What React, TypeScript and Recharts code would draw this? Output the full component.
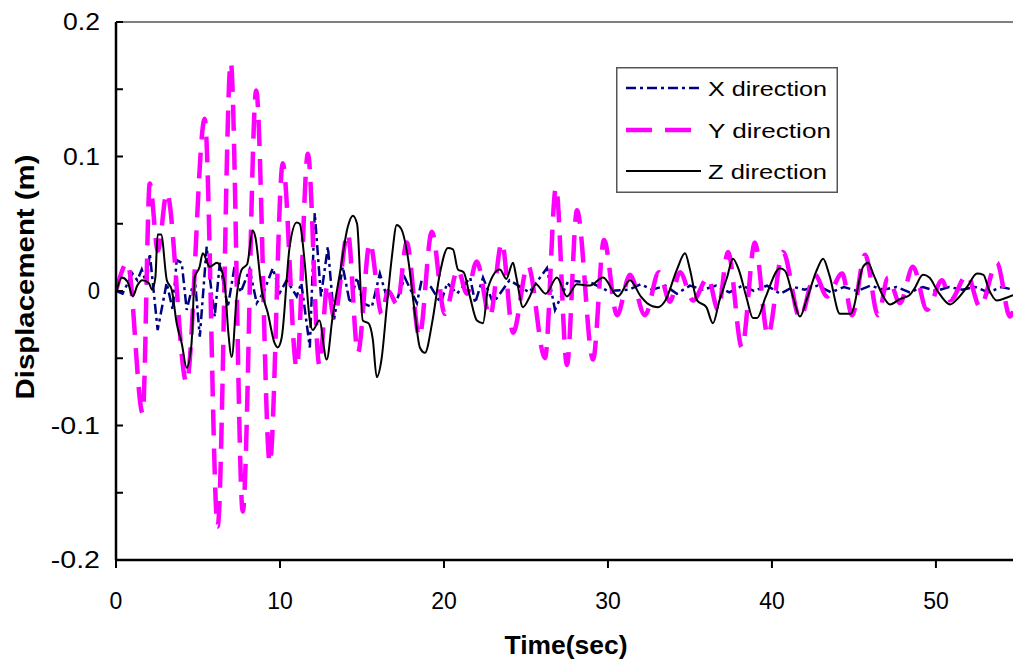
import React from 'react';
import { LineChart, Line, XAxis, YAxis, ReferenceLine, Legend } from 'recharts';

const SERIES_NAMES = ['X direction', 'Y direction', 'Z direction'];
const SERIES_COLORS = ['#000080', '#FF00FF', '#000000'];
const X_TICKS = [0, 10, 20, 30, 40, 50];
const Y_TICKS = [-0.2, -0.15, -0.1, -0.05, 0, 0.05, 0.1, 0.15, 0.2];
const Y_TICK_LABELS: Record<string, string> = { '-0.2': '-0.2', '-0.1': '-0.1', '0': '0', '0.1': '0.1', '0.2': '0.2' };

// [time (sec), displacement (m)]
const X_DIR: [number, number][] = [
  [0, 0], [0.4, -0.002], [1.0, 0.013], [1.3, 0.008], [1.57, 0.016], [1.87, 0.005], [2.06, 0.028], [2.54, -0.029],
  [3.09, 0.006], [3.46, -0.014], [3.7, 0.023], [4.01, 0.021], [4.31, -0.014], [4.8, 0.01], [5.11, -0.034], [5.53, 0.033],
  [5.72, 0.01], [6.02, -0.019], [6.33, 0.021], [6.82, -0.012], [7.24, 0.019], [7.6, -0.001], [8.15, 0.016], [8.58, -0.009],
  [9.0, -0.001], [9.56, 0.017], [10.0, -0.001], [10.41, 0.008], [11.02, -0.004], [11.3, 0.006], [11.82, -0.042], [12.12, 0.058],
  [12.5, -0.004], [12.92, 0.033], [13.3, -0.021], [13.83, 0.018], [14.26, -0.009], [14.7, 0.01], [15.05, -0.009], [15.6, -0.012],
  [16.09, 0.013], [16.5, -0.004], [17.12, -0.007], [17.61, 0.01], [18.35, -0.009], [18.64, 0.008], [19.2, 0.003], [19.8, -0.009],
  [20.2, 0.006], [20.8, -0.002], [21.6, 0.01], [21.9, -0.009], [22.38, 0.01], [23.0, -0.009], [24.0, 0.008], [25.2, -0.001],
  [26.28, 0.017], [26.77, -0.014], [27.6, 0.008], [29.0, 0.006], [30.0, 0.0], [31.3, 0.001], [32.0, 0.005], [32.7, 0.001],
  [33.5, 0.004], [34.2, -0.002], [35.0, 0.004], [35.8, 0.001], [36.6, 0.004], [37.4, -0.001], [38.2, 0.004], [38.9, 0.0],
  [39.7, 0.004], [40.5, -0.002], [41.3, 0.003], [42.0, 0.001], [42.8, 0.004], [43.6, -0.001], [44.4, 0.003], [45.2, 0.0],
  [46.0, 0.004], [46.8, 0.001], [47.6, 0.003], [48.4, -0.001], [49.2, 0.003], [50.0, 0.0], [50.8, 0.003], [51.6, 0.001],
  [52.4, 0.003], [53.2, -0.001], [54.0, 0.003], [54.7, 0.001],
];

const Y_DIR: [number, number][] = [
  [0, 0], [0.7, 0.021], [1.63, -0.091], [2.06, 0.08], [2.55, 0.03], [3.1, 0.073], [4.3, -0.068], [5.41, 0.128],
  [6.2, -0.175], [7.0, 0.17], [7.73, -0.164], [8.55, 0.149], [9.38, -0.128], [10.17, 0.095], [11.02, -0.057], [11.7, 0.102],
  [12.4, -0.055], [12.9, 0.005], [13.3, -0.02], [14.14, 0.043], [14.75, -0.046], [15.48, 0.036], [16.2, -0.017], [16.6, 0.0],
  [17.15, -0.01], [17.73, 0.036], [18.5, -0.034], [19.26, 0.044], [20.05, -0.017], [20.85, 0.016], [21.4, -0.002], [22.0, 0.022],
  [22.8, -0.019], [23.53, 0.036], [24.21, -0.031], [25.12, 0.019], [26.16, -0.05], [26.83, 0.077], [27.5, -0.055], [28.11, 0.06],
  [29.09, -0.051], [29.76, 0.038], [30.55, -0.018], [31.34, 0.012], [32.26, -0.018], [33.11, 0.014], [33.78, -0.008], [34.39, 0.014],
  [35.19, -0.007], [36.1, 0.01], [36.71, -0.014], [37.32, 0.029], [38.17, -0.042], [38.96, 0.036], [39.75, -0.033], [40.67, 0.029],
  [41.71, -0.02], [42.63, 0.012], [43.36, -0.004], [44.28, 0.013], [44.89, -0.018], [45.68, 0.027], [46.47, -0.018], [47.08, 0.01],
  [47.81, -0.009], [48.6, 0.018], [49.46, -0.014], [50.38, 0.008], [50.87, -0.007], [51.9, 0.012], [52.69, -0.012], [53.72, 0.021],
  [54.52, -0.019], [54.7, -0.015],
];

const Z_DIR: [number, number][] = [
  [0.04, 0], [0.35, 0.01], [0.7, 0.007], [1.02, -0.004], [1.3, 0.004], [1.6, 0.008], [2.0, 0.006], [2.2, 0.001],
  [2.4, 0.01], [2.54, 0.042], [2.75, 0.042], [3.1, 0.008], [3.4, 0.001], [3.7, -0.024], [4.01, -0.039], [4.31, -0.057],
  [4.6, -0.04], [4.8, 0.01], [5.1, 0.018], [5.29, 0.028], [5.72, 0.018], [6.16, 0.021], [6.5, 0.013], [6.65, 0.003],
  [6.85, -0.031], [7.06, -0.049], [7.36, -0.004], [7.67, 0.016], [8.0, 0.02], [8.34, 0.045], [8.5, 0.04], [8.89, 0.0],
  [9.25, -0.016], [9.68, -0.039], [9.86, -0.042], [10.1, -0.035], [10.59, 0.033], [11.02, 0.051], [11.2, 0.05], [11.51, 0.021],
  [11.82, -0.022], [12.0, -0.029], [12.4, -0.022], [12.85, -0.051], [13.2, -0.02], [13.65, 0.013], [14.14, 0.048], [14.44, 0.056],
  [14.7, 0.05], [15.05, -0.022], [15.4, -0.024], [15.66, -0.036], [15.9, -0.064], [16.2, -0.05], [16.51, -0.012], [16.82, 0.025],
  [17.12, 0.049], [17.4, 0.046], [17.8, 0.025], [18.22, -0.016], [18.53, -0.042], [18.84, -0.046], [19.3, -0.022], [19.75, 0.013],
  [20.24, 0.032], [20.55, 0.031], [20.85, 0.016], [21.2, 0.014], [21.58, -0.004], [22.01, -0.022], [22.38, -0.024], [22.7, 0.003],
  [23.41, 0.016], [23.8, 0.009], [24.21, 0.021], [24.4, 0.011], [24.82, -0.012], [25.2, -0.005], [25.6, 0.005], [26.2, -0.002],
  [26.89, 0.01], [27.5, -0.004], [28.1, 0.005], [28.9, 0.004], [29.7, 0.01], [30.61, -0.004], [31.34, 0.008], [32.0, -0.004],
  [32.38, -0.009], [33.05, -0.012], [33.5, -0.007], [34.21, 0.016], [34.7, 0.028], [35.0, 0.016], [35.43, -0.007], [36.0, -0.012],
  [36.4, -0.024], [36.8, -0.007], [37.26, 0.01], [37.62, 0.024], [38.0, 0.015], [38.45, -0.005], [38.84, -0.02], [39.1, -0.02],
  [39.6, -0.005], [40.49, 0.017], [40.8, 0.015], [41.3, -0.005], [41.71, -0.019], [42.1, -0.007], [42.75, 0.016], [43.12, 0.024],
  [43.5, 0.012], [44.15, -0.017], [44.8, -0.017], [45.56, 0.018], [45.86, 0.021], [46.2, 0.012], [46.7, -0.002], [47.2, -0.01],
  [47.8, -0.006], [48.4, -0.003], [48.7, 0.002], [49.21, 0.012], [49.6, 0.01], [50.1, 0.0], [50.87, -0.01], [51.3, -0.006],
  [51.9, 0.003], [52.51, 0.013], [52.9, 0.012], [53.2, 0.002], [53.72, -0.007], [54.3, -0.005], [54.7, -0.003],
];

const toRows = (pts: [number, number][]) => pts.map(([t, v]) => ({ t, v }));

const FONT = '"Liberation Sans", Arial, sans-serif';
const DASHES = ['10 4 3 4', '26 13', undefined];
const WIDTHS = [2.5, 4.5, 2];
const CURVES = ['linear', 'monotone', 'monotone'] as const;

const XTick = (props: any) => {
  const { x, y, payload } = props;
  return (
    <text x={x} y={y + 39} textAnchor="middle" fontFamily={FONT} fontSize={23} fill="#000">
      {String(payload.value)}
    </text>
  );
};

const YTick = (props: any) => {
  const { x, y, payload } = props;
  const key = String(Math.round(payload.value * 100) / 100);
  const label = Y_TICK_LABELS[key];
  const axisX = x + 16;
  return (
    <g>
      <line x1={axisX} x2={axisX + 7} y1={y} y2={y} stroke="#000" strokeWidth={2} />
      {label !== undefined && (
        <text x={x} y={y} dy="0.36em" textAnchor="end" fontFamily={FONT} fontSize={23} fill="#000"
          textLength={label.length * 12.3} lengthAdjust="spacingAndGlyphs">
          {label}
        </text>
      )}
    </g>
  );
};

const XTitle = () => (
  <text x={566} y={654} textAnchor="middle" fontFamily={FONT} fontWeight="bold" fontSize={25} fill="#000"
    textLength={123} lengthAdjust="spacingAndGlyphs">
    Time(sec)
  </text>
);

const YTitle = () => (
  <text
    x={0}
    y={0}
    transform="translate(34,277) rotate(-90)"
    textAnchor="middle"
    fontFamily={FONT}
    fontWeight="bold"
    fontSize={25}
    fill="#000"
    textLength={245}
    lengthAdjust="spacingAndGlyphs"
  >
    Displacement (m)
  </text>
);

const ROW_Y = [21, 63, 104];
const TEXT_LEN = [119, 123, 119];

const LegendBox = () => (
  <svg width={222} height={126} style={{ display: 'block' }}>
    <rect x={0.75} y={0.75} width={220.5} height={124.5} fill="#fff" stroke="#555" strokeWidth={1.5} />
    {SERIES_NAMES.map((name, i) => (
      <g key={name}>
        <line
          x1={10}
          x2={85}
          y1={ROW_Y[i]}
          y2={ROW_Y[i]}
          stroke={SERIES_COLORS[i]}
          strokeWidth={WIDTHS[i]}
          strokeDasharray={DASHES[i]}
        />
        <text
          x={92}
          y={ROW_Y[i]}
          dy="0.36em"
          fontFamily={FONT}
          fontSize={21}
          fill="#000"
          textLength={TEXT_LEN[i]}
          lengthAdjust="spacingAndGlyphs"
        >
          {name}
        </text>
      </g>
    ))}
  </svg>
);

export default function App() {
  const data = [X_DIR, Y_DIR, Z_DIR].map(toRows);
  return (
    <div style={{ position: 'absolute', left: 0, top: 0, width: 1013, height: 661, overflow: 'hidden', background: '#fff' }}>
      <LineChart width={1013} height={661} margin={{ top: 22, right: 0, bottom: 0, left: 0 }}>
        <XAxis
          type="number"
          dataKey="t"
          domain={[0, 54.7]}
          ticks={X_TICKS}
          interval={0}
          allowDataOverflow
          height={101}
          axisLine={{ stroke: '#000', strokeWidth: 2.5 }}
          tickLine={{ stroke: '#000', strokeWidth: 2 }}
          tickSize={8}
          tickMargin={2}
          tick={<XTick />}
          label={<XTitle />}
        />
        <YAxis
          type="number"
          dataKey="v"
          domain={[-0.2, 0.2]}
          ticks={Y_TICKS}
          interval={0}
          allowDataOverflow
          width={116}
          axisLine={{ stroke: '#000', strokeWidth: 2.5 }}
          tickLine={false}
          tickSize={0}
          tickMargin={16}
          tick={<YTick />}
          label={<YTitle />}
        />
        <ReferenceLine y={0.2} stroke="#808080" strokeWidth={2} />
        {data.map((rows, i) => (
          <Line
            key={SERIES_NAMES[i]}
            data={rows}
            dataKey="v"
            name={SERIES_NAMES[i]}
            type={CURVES[i]}
            stroke={SERIES_COLORS[i]}
            strokeWidth={WIDTHS[i]}
            strokeDasharray={DASHES[i]}
            dot={false}
            activeDot={false}
            isAnimationActive={false}
          />
        ))}
        <Legend
          layout="vertical"
          align="center"
          verticalAlign="middle"
          content={() => <LegendBox />}
          wrapperStyle={{ position: 'absolute', left: 616, top: 67, width: 222, height: 126 }}
        />
      </LineChart>
    </div>
  );
}
